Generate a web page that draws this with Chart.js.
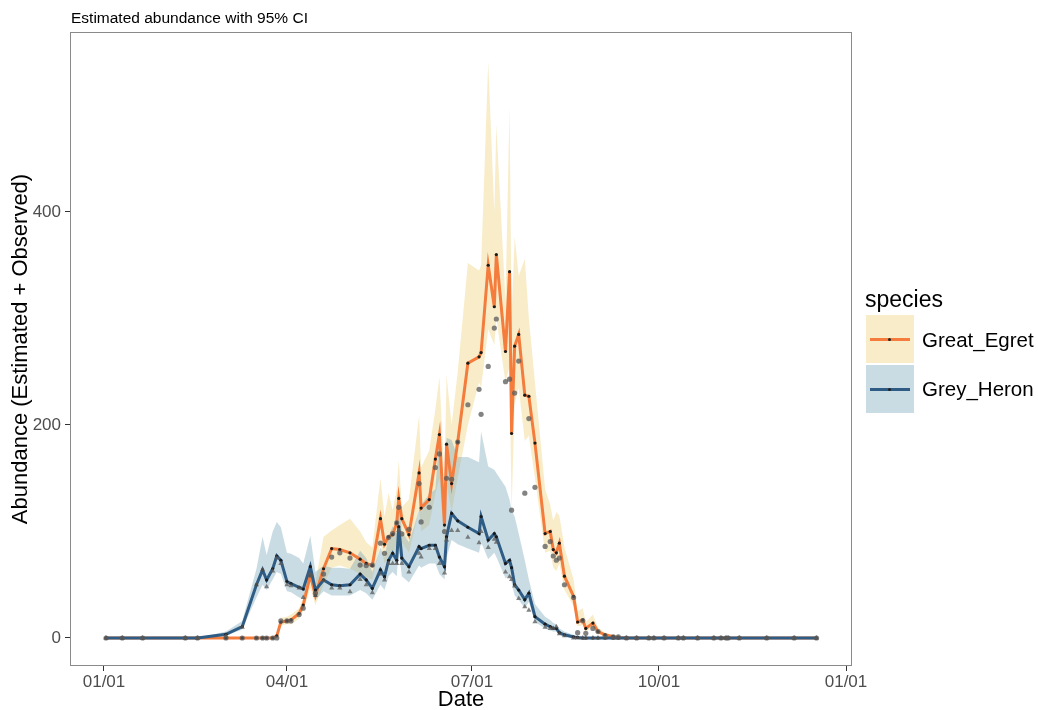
<!DOCTYPE html>
<html>
<head>
<meta charset="utf-8">
<script src="https://cdn.jsdelivr.net/npm/chart.js@4.4.1/dist/chart.umd.min.js"></script>
<style>
  body { margin: 0; background: #fff; font-family: "Liberation Sans", Arial, sans-serif; }
  #wrap { position: relative; width: 1038px; height: 710px; }
  .lg { position: absolute; color: #000; white-space: nowrap; }
  .key { position: absolute; width: 48px; height: 48px; }
  .kline { position: absolute; left: 4px; width: 40px; height: 3px; top: 23px; }
  .kdot { position: absolute; left: 22px; top: 23px; width: 3px; height: 3px; border-radius: 50%; background: #222; }
</style>
</head>
<body>
<div id="wrap">
  <canvas id="abundanceChart" width="1038" height="710"></canvas>
  <div class="lg" style="left:865px; top:285px; font-size:23px; line-height:28px;">species</div>
  <div class="key" style="left:866px; top:315px; background:#f8ecc9;">
    <div class="kline" style="background:#f47c3c;"></div><div class="kdot"></div>
  </div>
  <div class="key" style="left:866px; top:365px; background:#cadce3;">
    <div class="kline" style="background:#2f5c85;"></div><div class="kdot"></div>
  </div>
  <div class="lg" style="left:922px; top:327px; font-size:20.5px; line-height:26px;">Great_Egret</div>
  <div class="lg" style="left:922px; top:376px; font-size:20.5px; line-height:26px;">Grey_Heron</div>
</div>
<script>
// dia del año (0 = 01/01)
const dias = [1, 9, 19, 40, 46, 60, 68, 75, 78, 80,
  83, 85, 87, 90, 92, 96, 98, 101.5, 104, 108,
  112, 116, 121, 126, 129, 132, 136, 138, 140, 142,
  144, 145, 146.5, 150, 155, 156, 160, 163, 165, 167.5,
  168.5, 171, 174, 179, 184.5, 185.5, 189, 192, 193, 197.5,
  199.5, 200.5, 202, 204, 207, 209, 212, 217, 219.5, 221,
  222.5, 224, 226.5, 231, 233, 235.5, 237, 240.5, 243, 246.5,
  250.5, 253, 257, 262, 268, 270.5, 275.5, 282.5, 285, 292,
  300, 303.5, 306, 307, 312.5, 326, 339.5, 350.5];

// Great_Egret
const egretEst = [0, 0, 0, 0, 0, 0, 0, 0, 0, 0,
  0, 2, 15, 16, 17, 23, 31, 59, 40, 65,
  84, 83, 80, 74, 70, 68, 112, 88, 95, 97,
  108, 131, 112, 97, 155, 122, 130, 168, 191, 106,
  182, 145, 184, 258, 264, 268, 350, 311, 360, 269,
  344, 192, 274, 285, 228, 227, 183, 98, 100, 83,
  80, 89, 58, 39, 15, 17, 9, 14, 6, 3,
  1.3, 0.5, 0, 0, 0, 0, 0, 0, 0, 0,
  0, 0, 0, 0, 0, 0, 0, 0];
const egretLo = [0, 0, 0, 0, 0, 0, 0, 0, 0, 0,
  0, 1, 12, 13, 13, 18, 25, 47, 31, 50,
  66, 68, 65, 60, 57, 55, 88, 70, 76, 78,
  88, 105, 90, 80, 120, 100, 106, 135, 150, 85,
  145, 118, 150, 200, 240, 235, 290, 275, 300, 240,
  255, 118, 220, 235, 185, 190, 150, 80, 82, 66,
  63, 70, 45, 30, 11, 12, 6, 10, 4, 1,
  0, 0, 0, 0, 0, 0, 0, 0, 0, 0,
  0, 0, 0, 0, 0, 0, 0, 0];
const egretHi = [0, 0, 0, 0, 0, 0, 0, 0, 0, 0,
  0, 4, 19, 20, 22, 28, 37, 68, 52, 95,
  101, 106, 112, 100, 90, 85, 150, 114, 136, 120,
  140, 167, 123, 130, 209, 160, 176, 215, 245, 150,
  247, 200, 250, 352, 345, 350, 541, 400, 482, 317,
  499, 300, 377, 340, 356, 300, 240, 140, 125, 110,
  118, 115, 85, 55, 25, 28, 15, 22, 10, 5,
  3, 2, 0, 0, 0, 0, 0, 0, 0, 0,
  0, 0, 0, 0, 0, 0, 0, 0];
const egretObs = [0, 0, 0, 0, 0, 0, 0, 0, 0, 0,
  0, 0, 16, 16, 16, 22, 28, 59, 42, 60,
  76, 80, 75, 68.5, 68, 68.5, 89, 79.5, 94.5, 98,
  108, 122.7, 97.7, 102, 145, 109, 122.7, 160, 172.8, 100,
  150, 149, 184, 219, 233.5, 210, 255, 291, 299.5, 240.7,
  243, 120, 230, 260, 136, 206, 141.5, 86, 90.5, 77,
  73, 75, 50, 38, 5, 16.3, 4.4, 9, 6, 2,
  1, 1, 0, 0, 0, 0, 0, 0, 0, 0,
  0, 0, 0, 0, 0, 0, 0, 0];

// Grey_Heron
const heronEst = [0, 0, 0, 0, 0, 3.5, 10.6, 50, 64, 54.5,
  65, 77, 73, 53, 51, 47.6, 46, 67, 45, 54.5,
  50, 49, 50, 60, 54.5, 46.6, 64, 57.6, 73, 79.5,
  73, 104.5, 75, 67, 85.7, 84, 87, 87, 76, 67,
  95, 117, 110, 104, 98, 114, 92, 98, 95, 70,
  73, 66, 50, 45, 36, 42, 20, 13, 10.6, 9,
  9, 5, 3, 1, 0.5, 0, 0, 0, 0, 0,
  0, 0, 0, 0, 0, 0, 0, 0, 0, 0,
  0, 0, 0, 0, 0, 0, 0, 0];
const heronLo = [0, 0, 0, 0, 0, 2, 8, 38, 50, 45,
  55, 62, 60, 44, 43, 38, 37, 55, 36, 44,
  40, 40, 40, 45, 42, 36, 50, 45, 58, 62,
  58, 82, 58, 52, 68, 66, 70, 70, 60, 55,
  75, 92, 88, 84, 80, 90, 74, 80, 76, 56,
  58, 52, 40, 36, 28, 34, 15, 9, 7, 6,
  6, 3, 1, 0, 0, 0, 0, 0, 0, 0,
  0, 0, 0, 0, 0, 0, 0, 0, 0, 0,
  0, 0, 0, 0, 0, 0, 0, 0];
const heronHi = [0, 0, 0, 0, 0, 6, 16, 65, 95, 78,
  100, 109, 104, 80, 79, 75, 70, 96, 62, 68,
  66, 66, 65, 82, 75, 62, 85, 76, 95, 105,
  98, 140, 100, 90, 120, 125, 135, 140, 193, 130,
  188, 186, 170, 170, 165, 194, 161, 158, 155, 142,
  130, 120, 114, 98, 73, 55, 32, 20, 17, 14,
  13, 9, 6, 3, 1, 0, 0, 0, 0, 0,
  0, 0, 0, 0, 0, 0, 0, 0, 0, 0,
  0, 0, 0, 0, 0, 0, 0, 0];
const heronObs = [0, 0, 0, 0, 0, 2, 10, 50, 64, 48,
  63, 75, 70, 50, 49, 47, 38, 59, 40, 54,
  47, 47, 43.5, 55, 50, 42.5, 60, 54.5, 70, 70,
  70, 101, 70, 62, 79.5, 76, 84, 84, 70, 61,
  92, 101, 101, 94.5, 89.5, 100, 85, 92.7, 90, 62,
  57.6, 55, 48.8, 37, 29.4, 26, 15.3, 10, 9, 9,
  10.6, 4, 2, 0, 0, 0, 0, 0, 0, 0,
  0, 0, 0, 0, 0, 0, 0, 0, 0, 0,
  0, 0, 0, 0, 0, 0, 0, 0];

const xTicks = [0, 90, 181, 273, 365];
const xTickLabels = ['01/01', '04/01', '07/01', '10/01', '01/01'];
const yTicks = [0, 200, 400];
const tituloGrafico = 'Estimated abundance with 95% CI';

const fuente = '"Liberation Sans", Arial, sans-serif';

function puntos(valores) {
    return dias.map((d, i) => ({ x: d, y: valores[i] }));
}

// marco gris y titulo arriba a la izquierda
const decoracion = {
    id: 'decoracion',
    afterDraw(chart) {
        const { ctx, chartArea: a } = chart;
        ctx.save();
        ctx.strokeStyle = '#8a8a8a';
        ctx.lineWidth = 1;
        ctx.strokeRect(a.left + 0.5, a.top + 0.5, a.right - a.left - 1, a.bottom - a.top - 1);
        ctx.fillStyle = '#000';
        ctx.font = '15.5px ' + fuente;
        ctx.textBaseline = 'middle';
        ctx.fillText(tituloGrafico, a.left + 1, 19);
        ctx.restore();
    }
};

const ctx = document.getElementById('abundanceChart').getContext('2d');
new Chart(ctx, {
    type: 'line',
    data: {
        datasets: [
            { // heron observado
                data: puntos(heronObs), showLine: false, order: 0,
                pointStyle: 'triangle', pointRadius: 3, pointBorderWidth: 0,
                pointBackgroundColor: 'rgba(90,90,90,0.75)'
            },
            { // egret observado
                data: puntos(egretObs), showLine: false, order: 1,
                pointRadius: 2.6, pointBorderWidth: 0,
                pointBackgroundColor: 'rgba(90,90,90,0.75)'
            },
            {
                label: 'Grey_Heron', data: puntos(heronEst), order: 2,
                borderColor: '#2f5c85', borderWidth: 3, tension: 0, fill: false,
                pointRadius: 1.6, pointBorderWidth: 0, pointBackgroundColor: '#1a1a1a'
            },
            {
                label: 'Great_Egret', data: puntos(egretEst), order: 3,
                borderColor: '#f47c3c', borderWidth: 3, tension: 0, fill: false,
                pointRadius: 1.6, pointBorderWidth: 0, pointBackgroundColor: '#1a1a1a'
            },
            {
                data: puntos(heronHi), order: 4, borderWidth: 0, pointRadius: 0,
                fill: 5, backgroundColor: 'rgba(122,167,185,0.4)'
            },
            { data: puntos(heronLo), order: 5, borderWidth: 0, pointRadius: 0, fill: false },
            {
                data: puntos(egretHi), order: 6, borderWidth: 0, pointRadius: 0,
                fill: 7, backgroundColor: 'rgba(238,208,120,0.4)'
            },
            { data: puntos(egretLo), order: 7, borderWidth: 0, pointRadius: 0, fill: false }
        ]
    },
    options: {
        responsive: false,
        animation: false,
        devicePixelRatio: 1,
        layout: { padding: { left: 0, right: 186, top: 32, bottom: 0 } },
        plugins: {
            legend: { display: false },
            tooltip: { enabled: false }
        },
        scales: {
            x: {
                type: 'linear',
                min: -16.72,
                max: 367.95,
                afterBuildTicks: (scale) => { scale.ticks = xTicks.map(v => ({ value: v })); },
                afterFit: (scale) => { scale.height = 44; },
                border: { display: false },
                grid: { drawOnChartArea: false, drawTicks: true, tickLength: 5, color: '#333' },
                ticks: {
                    color: '#4d4d4d', font: { family: fuente, size: 17 }, padding: 1,
                    maxRotation: 0,
                    callback: function(value) {
                        const i = xTicks.indexOf(value);
                        return i >= 0 ? xTickLabels[i] : '';
                    }
                },
                title: {
                    display: true, text: 'Date', color: '#000',
                    font: { family: fuente, size: 22 }, padding: { top: 0, bottom: -3 }
                }
            },
            y: {
                min: -26.3,
                max: 569,
                afterBuildTicks: (scale) => { scale.ticks = yTicks.map(v => ({ value: v })); },
                afterFit: (scale) => { scale.width = 70; },
                border: { display: false },
                grid: { drawOnChartArea: false, drawTicks: true, tickLength: 5, color: '#333' },
                ticks: { color: '#4d4d4d', font: { family: fuente, size: 17 }, padding: 4 },
                title: {
                    display: true, text: 'Abundance (Estimated + Observed)', color: '#000',
                    font: { family: fuente, size: 22 }, padding: { top: 8, bottom: 0 }
                }
            }
        }
    },
    plugins: [decoracion]
});
</script>
</body>
</html>
